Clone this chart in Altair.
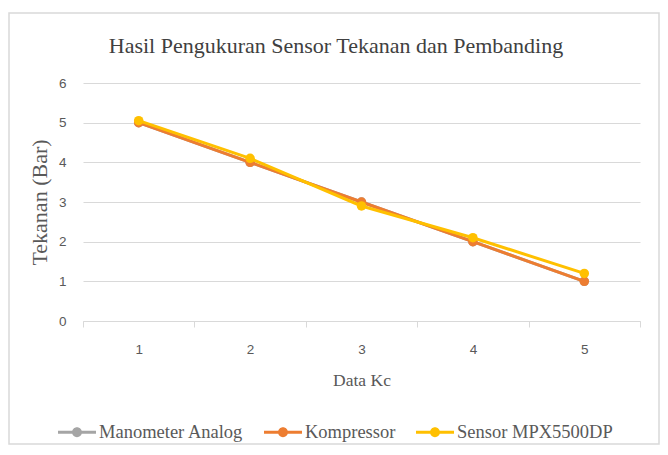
import altair as alt
import pandas as pd

data_kc = [1, 2, 3, 4, 5]
manometer = [5, 4, 3, 2, 1]
kompressor = [5, 4, 3, 2, 1]
sensor = [5.05, 4.1, 2.9, 2.1, 1.2]

series_names = ["Manometer Analog", "Kompressor", "Sensor MPX5500DP"]
series_colors = ["#a5a5a5", "#ed7d31", "#ffc000"]
chart_title = "Hasil Pengukuran Sensor Tekanan dan Pembanding"

rows = []
for name, vals in zip(series_names, [manometer, kompressor, sensor]):
    for k, v in zip(data_kc, vals):
        rows.append({"Data Kc": str(k), "Tekanan": v, "Seri": name})
df = pd.DataFrame(rows)

legend_symbol = (
    "M-1,-0.08H1V0.08H-1Z "
    "M-0.26,0a0.26,0.26 0 1,1 0.52,0a0.26,0.26 0 1,1 -0.52,0Z"
)

color = alt.Color(
    "Seri:N",
    scale=alt.Scale(domain=series_names, range=series_colors),
    legend=alt.Legend(
        title=None, orient="none", direction="horizontal",
        legendX=-25, legendY=330,
        symbolType=legend_symbol, symbolStrokeWidth=0, symbolSize=1444,
        symbolOpacity=1,
        labelFont="Liberation Serif", labelFontSize=18.5, labelColor="#595959",
        columnPadding=20, labelOffset=3,
    ),
)

x = alt.X(
    "Data Kc:N",
    scale=alt.Scale(paddingInner=0, paddingOuter=0),
    axis=alt.Axis(
        title="Data Kc", labelAngle=0, tickBand="extent", grid=False,
        domainColor="#d9d9d9", tickColor="#d9d9d9", tickSize=6,
        labelFont="Liberation Sans", labelFontSize=13.5, labelColor="#595959",
        labelPadding=15, titleFont="Liberation Serif", titleFontSize=17.5,
        titleFontWeight="normal", titleColor="#595959", titlePadding=16,
    ),
)
y = alt.Y(
    "Tekanan:Q",
    scale=alt.Scale(domain=[0, 6]),
    axis=alt.Axis(
        title="Tekanan (Bar)", values=[0, 1, 2, 3, 4, 5, 6], labelOverlap=False,
        domain=False, ticks=False, gridColor="#d9d9d9",
        labelFont="Liberation Sans", labelFontSize=13.5, labelColor="#595959",
        labelPadding=17, titleFont="Liberation Serif", titleFontSize=22,
        titleFontWeight="normal", titleColor="#595959", titlePadding=7,
    ),
)

layers = []
for name in series_names:
    base = alt.Chart(df).transform_filter(alt.datum.Seri == name)
    layers.append(base.mark_line(strokeWidth=3).encode(x=x, y=y, color=color))
    layers.append(
        base.mark_point(size=90, filled=True, opacity=1).encode(x=x, y=y, color=color)
    )

border = alt.Chart(pd.DataFrame({"a": [0]})).mark_rect(
    fill=None, stroke="#d9d9d9", strokeWidth=1.5, clip=False
).encode(
    x=alt.value(-74), x2=alt.value(576), y=alt.value(-70), y2=alt.value(361)
)

title_mark = alt.Chart(pd.DataFrame({"t": [chart_title]})).mark_text(
    font="Liberation Serif", fontSize=22, color="#404040", align="center",
    baseline="middle",
).encode(text="t:N", x=alt.value(253), y=alt.value(-37))

chart = alt.layer(border, title_mark, *layers).properties(
    width=557,
    height=238,
    padding={"left": 75, "top": 75, "right": 20, "bottom": 126},
    autosize=alt.AutoSizeParams(type="none"),
).configure_view(stroke=None)

chart.save("out.html", embed_options={"renderer": "svg", "actions": False})
